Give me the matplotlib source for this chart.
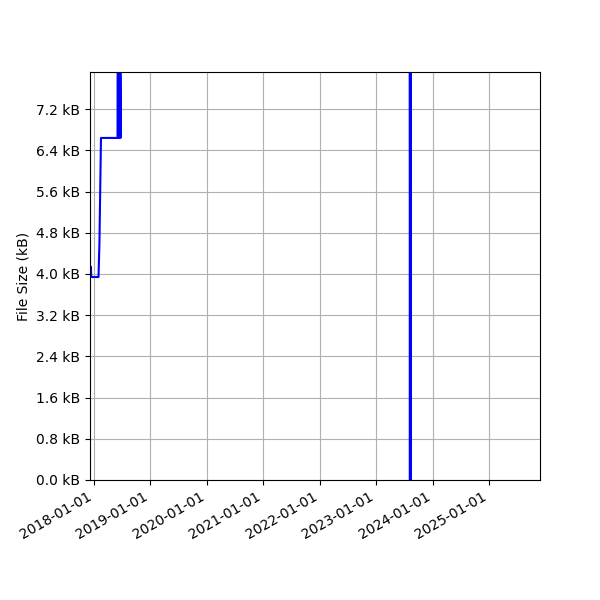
import datetime as dt

import matplotlib
matplotlib.use("Agg")
import matplotlib.pyplot as plt
import matplotlib.dates as mdates
from matplotlib.ticker import MultipleLocator, FuncFormatter

# file size history (kB)
dates = ["2017-12-08", "2017-12-14", "2017-12-16", "2018-02-01", "2018-02-07",
         "2018-02-17", "2018-06-04", "2018-06-06", "2018-06-08", "2018-06-10",
         "2018-06-14", "2018-06-16", "2018-06-24", "2018-06-26",
         "2023-08-08", "2023-08-10", "2023-08-12"]
sizes = [4.14, 4.14, 3.94, 3.94, 4.6,
         6.64, 6.64, 9.5, 6.64, 9.5,
         6.64, 9.5, 6.64, 12.0,
         12.0, 0.0, 12.0]

x = [dt.datetime.strptime(d, "%Y-%m-%d") for d in dates]

fig, ax = plt.subplots(figsize=(6, 6))
ax.plot(x[:-3], sizes[:-3], color="blue", linewidth=1.5)
ax.plot(x[-3:], sizes[-3:], color="blue", linewidth=2)

ax.set_xlim(dt.datetime(2017, 12, 8), dt.datetime(2025, 11, 26))
ax.set_ylim(0, 7.92)
ax.yaxis.set_major_locator(MultipleLocator(0.8))
ax.yaxis.set_major_formatter(FuncFormatter(lambda v, p: "%.1f kB" % v))
ax.xaxis.set_major_locator(mdates.YearLocator())
ax.xaxis.set_major_formatter(mdates.DateFormatter("%Y-%m-%d"))
ax.set_ylabel("File Size (kB)")
ax.grid(True)

fig.autofmt_xdate()
fig.subplots_adjust(left=0.15)
plt.savefig("out.png", dpi=100)
